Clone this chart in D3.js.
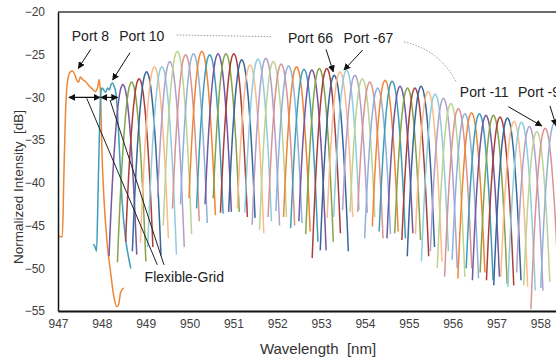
<!DOCTYPE html>
<html>
<head>
<meta charset="utf-8">
<script src="https://cdn.jsdelivr.net/npm/d3@7"></script>
<style>
  body { margin: 0; background: #fff; }
  text { font-family: "Liberation Sans", Arial, sans-serif; }
</style>
</head>
<body>
<div id="chart"></div>
<script>
// ---- data ----
const xTicks = [947, 948, 949, 950, 951, 952, 953, 954, 955, 956, 957, 958];
const yTicks = [-55, -50, -45, -40, -35, -30, -25, -20];

// flexible-grid ports, traced point by point
const port8Nm = [947.00, 947.06, 947.10, 947.13, 947.17, 947.22, 947.28, 947.33, 947.38, 947.44, 947.47, 947.51, 947.56, 947.62, 947.70, 947.78, 947.85, 947.90, 947.94, 947.97, 948.00, 948.05, 948.12, 948.20, 948.28, 948.34, 948.38, 948.43, 948.50];
const port8Db = [-46.1, -46.3, -46.3, -40, -32, -28, -27.0, -26.9, -27.3, -28.1, -28.2, -27.6, -27.9, -28.1, -28.6, -29.0, -29.3, -28.9, -27.9, -29.5, -36, -42, -47, -50.5, -53.5, -54.5, -54.3, -52.8, -52.3];
const port10Nm = [947.80, 947.84, 947.88, 947.91, 947.95, 947.98, 948.01, 948.05, 948.09, 948.13, 948.17, 948.21, 948.24, 948.28, 948.32, 948.36, 948.40, 948.46, 948.54, 948.62, 948.66];
const port10Db = [-47.2, -47.4, -48.0, -42, -33, -29.2, -28.9, -29.2, -29.4, -28.9, -29.1, -28.5, -28.3, -28.7, -29.5, -32, -36, -42, -46.5, -49, -50];

// fixed-grid ports: centre wavelength, peak level, left / right floor where the trace ends
const ports = ['12', '14', '16', '18', '20', '22', '24', '26', '28', '30', '32', '34', '36', '38', '40', '42', '44', '46', '48', '50', '52', '54', '56', '58', '60', '62', '64', '66',
  '-67', '-65', '-63', '-61', '-59', '-57', '-55', '-53', '-51', '-49', '-47', '-45', '-43', '-41', '-39', '-37', '-35', '-33', '-31', '-29', '-27', '-25', '-23', '-21', '-19', '-17', '-15', '-13', '-11', '-9'];
const centers = [948.48, 948.68, 948.85, 949.02, 949.20, 949.37, 949.55, 949.72, 949.91, 950.09, 950.28, 950.46, 950.65, 950.83, 951.01, 951.19, 951.38, 951.56, 951.74, 951.91, 952.09, 952.26, 952.44, 952.61, 952.79, 952.96, 953.13, 953.30,
  953.43, 953.58, 953.77, 953.94, 954.11, 954.29, 954.46, 954.62, 954.80, 954.97, 955.14, 955.28, 955.44, 955.60, 955.79, 955.96, 956.13, 956.28, 956.43, 956.61, 956.76, 956.93, 957.08, 957.25, 957.40, 957.57, 957.75, 957.92, 958.11, 958.32];
const peaks = [-28.5, -28.2, -27.8, -27.0, -26.4, -26.4, -25.8, -24.6, -25.0, -24.9, -24.6, -25.0, -24.9, -24.9, -24.9, -25.6, -26.2, -25.5, -25.4, -25.8, -26.1, -26.3, -26.4, -26.7, -26.8, -26.6, -26.6, -27.4,
  -27.0, -26.8, -27.4, -27.8, -28.2, -28.9, -28.0, -28.1, -28.7, -28.9, -28.9, -28.7, -29.3, -29.6, -30.1, -30.7, -31.3, -31.9, -31.8, -31.9, -32.1, -32.1, -32.3, -32.4, -32.8, -32.9, -33.4, -34.0, -33.6, -33.0];
const floorLeft = [-48.6, -49.3, -46.9, -48.0, -47.0, -47.5, -41.6, -45.0, -43.0, -42.5, -41.8, -43.0, -42.5, -41.8, -43.5, -43.4, -43.0, -43.5, -44.9, -45.5, -44.0, -43.3, -44.0, -45.3, -44.5, -46.0, -48.8, -47.9,
  -44.1, -44.0, -43.2, -43.4, -43.4, -46.5, -45.1, -45.7, -46.5, -45.9, -46.7, -48.6, -46.0, -49.2, -48.0, -50.0, -51.0, -49.0, -51.2, -50.0, -51.4, -50.5, -51.4, -52.0, -51.0, -52.2, -50.5, -52.0, -54.8, -52.3];
const floorRight = [-48.4, -49.2, -47.5, -48.5, -46.5, -48.4, -47.5, -46.0, -44.5, -44.7, -43.8, -43.6, -43.4, -43.4, -44.0, -44.1, -45.9, -44.5, -45.0, -44.0, -45.0, -44.7, -45.7, -46.9, -47.9, -46.9, -45.9, -48.0,
  -44.0, -43.2, -43.5, -44.0, -46.5, -46.0, -45.7, -46.5, -45.9, -46.7, -48.6, -47.5, -49.2, -48.0, -50.0, -51.0, -50.0, -51.2, -50.5, -51.4, -51.0, -51.8, -52.0, -51.4, -52.2, -52.6, -52.6, -51.6, -52.0, -52.0];

// common passband shape: offset from centre (nm) vs. drop below peak (dB)
const profileDx = [0, 0.03, 0.06, 0.09, 0.12, 0.15, 0.18, 0.21, 0.24, 0.27, 0.30, 0.33, 0.36, 0.40];
const profileDrop = [0, 0.2, 0.7, 1.6, 2.9, 4.5, 6.5, 8.8, 11.5, 14.6, 18, 21.8, 25.9, 32];

// 12-colour cycle, starting at Port 8
const palette = ['#EE8634', '#3E9EB8', '#7458A0', '#86A34A', '#A93F3C', '#3A669C',
  '#F9BB8A', '#8ECDDD', '#B0A0CA', '#BCD391', '#D99391', '#8FB1DA'];

// ---- chart ----
const width = 556, height = 358;
const margin = { left: 58, top: 12, bottom: 47 };
const pxPerNm = 43.85;

const x = d3.scaleLinear().domain([947, 959]).range([margin.left, margin.left + pxPerNm * 12]);
const y = d3.scaleLinear().domain([-55, -20]).range([height - margin.bottom, margin.top]);

const svg = d3.select('#chart').append('svg')
  .attr('width', width)
  .attr('height', height);

const defs = svg.append('defs');
defs.append('clipPath').attr('id', 'plot-clip')
  .append('rect')
  .attr('x', x(947)).attr('y', y(-20) - 1)
  .attr('width', x(959) - x(947)).attr('height', y(-55) - y(-20) + 1);

defs.append('marker')
  .attr('id', 'arrow')
  .attr('viewBox', '0 0 10 10')
  .attr('refX', 9).attr('refY', 5)
  .attr('markerWidth', 7).attr('markerHeight', 7)
  .attr('markerUnits', 'userSpaceOnUse')
  .attr('orient', 'auto-start-reverse')
  .append('path')
  .attr('d', 'M0,0 L10,5 L0,10 z')
  .attr('fill', '#111');

function sideOf(c, pk, floor, dir) {
  const pts = [];
  for (let i = 0; i < profileDx.length; i++) {
    const v = pk - profileDrop[i];
    if (v <= floor) {
      const t = (pk - floor - profileDrop[i - 1]) / (profileDrop[i] - profileDrop[i - 1]);
      const dx = profileDx[i - 1] + t * (profileDx[i] - profileDx[i - 1]);
      pts.push([c + dir * dx, floor]);
      break;
    }
    pts.push([c + dir * profileDx[i], v]);
  }
  return pts;
}

const traces = [];
traces.push({ port: '8', pts: port8Nm.map((d, i) => [d, port8Db[i]]) });
traces.push({ port: '10', pts: port10Nm.map((d, i) => [d, port10Db[i]]) });
ports.forEach((p, i) => {
  const left = sideOf(centers[i], peaks[i], floorLeft[i], -1).reverse();
  const right = sideOf(centers[i], peaks[i], floorRight[i], 1).slice(1);
  traces.push({ port: p, pts: left.concat(right) });
});

const line = d3.line()
  .x(d => x(d[0]))
  .y(d => y(d[1]))
  .curve(d3.curveMonotoneX);

svg.append('g')
  .attr('class', 'traces')
  .attr('clip-path', 'url(#plot-clip)')
  .selectAll('path')
  .data(traces)
  .enter()
  .append('path')
  .attr('d', d => line(d.pts))
  .attr('fill', 'none')
  .attr('stroke', (d, i) => palette[i % palette.length])
  .attr('stroke-width', 1.5)
  .attr('stroke-linejoin', 'round');

// frame
svg.append('line')
  .attr('x1', x(947)).attr('x2', width)
  .attr('y1', y(-20)).attr('y2', y(-20))
  .attr('stroke', '#3a3a3a').attr('stroke-width', 1.5);

const yAxis = svg.append('g')
  .attr('transform', `translate(${x(947)},0)`)
  .call(d3.axisLeft(y).tickValues(yTicks).tickSize(0).tickPadding(13).tickFormat(d3.format('d')));
yAxis.select('.domain').attr('stroke', '#111').attr('stroke-width', 1.5);
yAxis.selectAll('text').attr('font-size', 12).attr('fill', '#404040');

const xAxis = svg.append('g')
  .attr('transform', `translate(0,${y(-55)})`)
  .call(d3.axisBottom(x).tickValues(xTicks).tickSize(0).tickPadding(8).tickFormat(d3.format('d')));
xAxis.select('.domain').attr('stroke', '#111').attr('stroke-width', 2);
xAxis.selectAll('text').attr('font-size', 12).attr('fill', '#404040');

svg.append('text')
  .attr('x', 318).attr('y', 354)
  .attr('text-anchor', 'middle')
  .attr('font-size', 15)
  .attr('fill', '#333')
  .text('Wavelength\u00a0 [nm]');

svg.append('text')
  .attr('transform', 'translate(23,187) rotate(-90)')
  .attr('text-anchor', 'middle')
  .attr('font-size', 13.5)
  .attr('fill', '#333')
  .text('Normalized Intensity\u00a0 [dB]');

// ---- annotations (data coordinates) ----
const labels = [
  { text: 'Port 8', nm: 947.74, db: -23.4 },
  { text: 'Port 10', nm: 948.91, db: -23.4 },
  { text: 'Port 66', nm: 952.76, db: -23.66 },
  { text: 'Port -67', nm: 954.08, db: -23.66 },
  { text: 'Port -11', nm: 956.72, db: -29.91 },
  { text: 'Port -9', nm: 957.97, db: -29.91 },
  { text: 'Flexible-Grid', nm: 949.88, db: -51.6 }
];
const arrows = [
  [947.746, -24.37, 947.463, -26.59],
  [948.642, -24.76, 948.247, -27.96],
  [953.112, -24.37, 953.278, -26.99],
  [953.949, -24.45, 953.522, -26.79],
  [957.269, -31.08, 958.031, -33.34],
  [958.22, -31.0, 958.36, -33.3]
];
const spans = [[947.25, 947.958, -30], [947.98, 948.36, -30]];
const leaders = [
  [947.655, -30.1, 949.265, -49.6],
  [948.186, -30.3, 949.417, -49.6]
];

const ann = svg.append('g').attr('class', 'annotations');

ann.selectAll('text.lbl')
  .data(labels)
  .enter()
  .append('text')
  .attr('class', 'lbl')
  .attr('x', d => x(d.nm))
  .attr('y', d => y(d.db))
  .attr('text-anchor', 'middle')
  .attr('font-size', 14)
  .attr('fill', '#222')
  .text(d => d.text);

ann.selectAll('line.arrow')
  .data(arrows)
  .enter()
  .append('line')
  .attr('class', 'arrow')
  .attr('x1', d => x(d[0])).attr('y1', d => y(d[1]))
  .attr('x2', d => x(d[2])).attr('y2', d => y(d[3]))
  .attr('stroke', '#111').attr('stroke-width', 1)
  .attr('marker-end', 'url(#arrow)');

ann.selectAll('line.span')
  .data(spans)
  .enter()
  .append('line')
  .attr('class', 'span')
  .attr('x1', d => x(d[0])).attr('x2', d => x(d[1]))
  .attr('y1', d => y(d[2])).attr('y2', d => y(d[2]))
  .attr('stroke', '#111').attr('stroke-width', 1.2)
  .attr('marker-start', 'url(#arrow)')
  .attr('marker-end', 'url(#arrow)');

ann.selectAll('line.leader')
  .data(leaders)
  .enter()
  .append('line')
  .attr('class', 'leader')
  .attr('x1', d => x(d[0])).attr('y1', d => y(d[1]))
  .attr('x2', d => x(d[2])).attr('y2', d => y(d[3]))
  .attr('stroke', '#222').attr('stroke-width', 1);

// dotted connectors between the label pairs
ann.append('line')
  .attr('x1', x(949.707)).attr('y1', y(-22.69))
  .attr('x2', x(951.857)).attr('y2', y(-22.89))
  .attr('stroke', '#999').attr('stroke-width', 1)
  .attr('stroke-dasharray', '1.5,1.5');

const curvePath = d3.path();
curvePath.moveTo(x(954.89), y(-23.48));
curvePath.quadraticCurveTo(x(955.71), y(-24.45), x(956.09), y(-28.28));
ann.append('path')
  .attr('d', curvePath.toString())
  .attr('fill', 'none')
  .attr('stroke', '#999').attr('stroke-width', 1)
  .attr('stroke-dasharray', '1.5,1.5');
</script>
</body>
</html>
